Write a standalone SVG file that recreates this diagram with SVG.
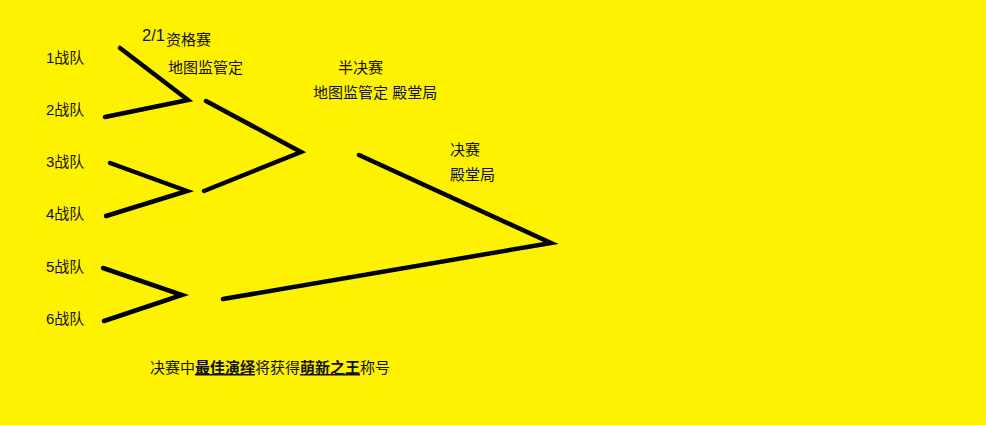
<svg xmlns="http://www.w3.org/2000/svg" width="986" height="425" viewBox="0 0 986 425">
<style>
text{font-family:"Liberation Sans","Noto Sans CJK SC",sans-serif;font-size:15px;fill:#111}
.c{fill:none;stroke:#000;stroke-width:4.5;stroke-linecap:round;stroke-linejoin:miter}
.b{font-weight:bold;text-decoration:underline}
</style>
<rect width="986" height="425" fill="#fff200"/>
<g id="connectors">
<polyline class="c" points="120,48 188,100 105,117"/>
<polyline class="c" points="110,163 187,191 106,216"/>
<polyline class="c" points="103,268 182,295 104,321"/>
<polyline class="c" points="206,101 301,152 204,191"/>
<polyline class="c" points="359,155 551,243 223,299"/>
</g>
<g id="team1"><text x="46" y="63">1战队</text></g>
<g id="team2"><text x="46" y="115">2战队</text></g>
<g id="team3"><text x="46" y="167">3战队</text></g>
<g id="team4"><text x="46" y="219">4战队</text></g>
<g id="team5"><text x="46" y="272">5战队</text></g>
<g id="team6"><text x="46" y="324">6战队</text></g>
<g id="round1"><text x="142" y="41" style="font-size:16.5px">2/1</text><text x="166" y="45">资格赛</text><text x="168" y="73">地图监管定</text></g>
<g id="semi"><text x="338" y="73">半决赛</text><text x="313" y="98">地图监管定 殿堂局</text></g>
<g id="final"><text x="450" y="155">决赛</text><text x="450" y="180">殿堂局</text></g>
<g id="note"><text x="150" y="373">决赛中<tspan class="b">最佳演绎</tspan>将获得<tspan class="b">萌新之王</tspan>称号</text></g>
</svg>
